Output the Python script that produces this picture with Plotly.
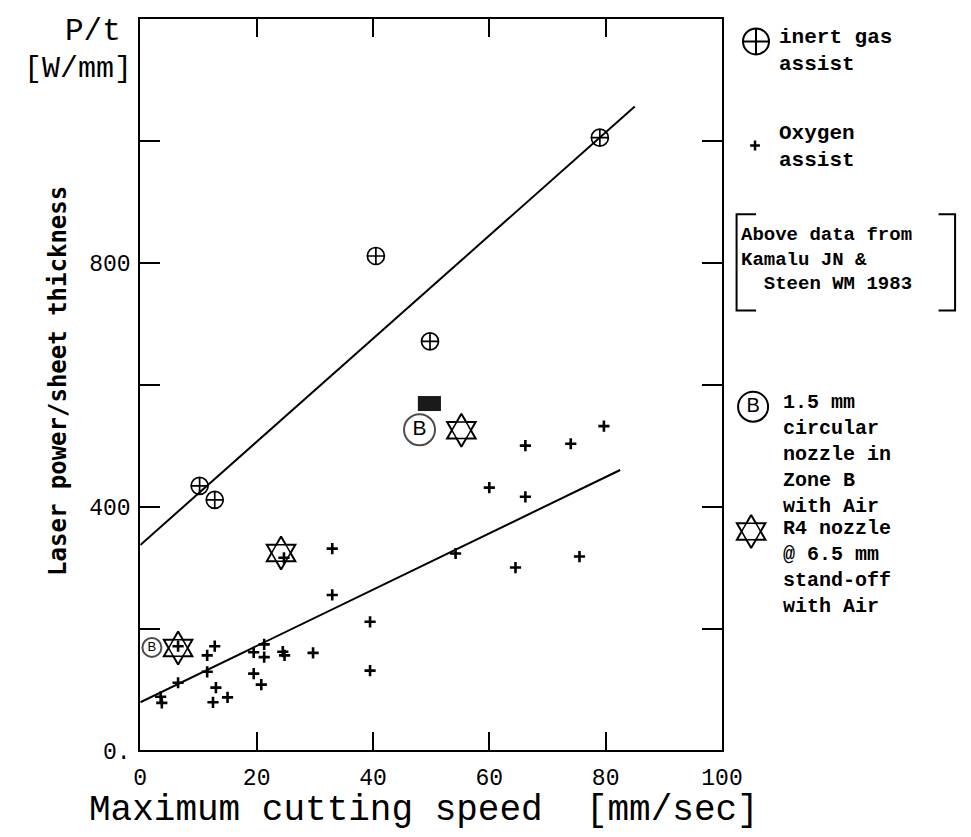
import plotly.graph_objects as go

W, H = 971, 837
L, R, T, B = 129, 728, 11, 756   # plot box edges (pixels)

# ---------------- data ----------------
inert_x = [10.2, 12.8, 40.5, 49.8, 79.0]
inert_y = [434, 411, 811, 671, 1005]

oxy_x = [3.5, 3.7, 6.5, 6.5, 11.5, 11.5, 12.8, 13.0, 12.5, 15.0, 19.5, 19.5,
         21.3, 21.3, 20.8, 24.5, 24.8, 24.7, 29.7, 33.0, 33.0, 39.5, 39.5,
         54.2, 60.0, 64.5, 66.2, 66.2, 74.0, 75.5, 79.7]
oxy_y = [88, 78, 111, 171, 129, 156, 171, 103, 79, 87, 161, 126,
         174, 153, 108, 162, 156, 316, 160, 331, 255, 211, 131,
         323, 431, 300, 500, 416, 503, 318, 532]

circB_x = [2.0, 48.0]
circB_y = [169, 526]

star_x = [6.5, 24.2, 55.2]
star_y = [168, 324, 525]

block_x = [49.7]
block_y = [569]

inert_fit_x = [0, 85]
inert_fit_y = [337, 1056]
oxy_fit_x = [0, 82.5]
oxy_fit_y = [79, 460]

x_ticks = [0, 20, 40, 60, 80, 100]
x_ticktext = ["0", "20", "40", "60", "80", "100"]
y_ticks = [0, 200, 400, 600, 800, 1000]
y_ticktext = ["0.", "", "400", "", "800", ""]

x_title = "Maximum cutting speed\u00a0\u00a0[mm/sec]"
y_title = "Laser power/sheet thickness"
unit_top = "P/t"
unit_bottom = "[W/mm]"

legend_inert = ["inert gas", "assist"]
legend_oxy = ["Oxygen", "assist"]
source_lines = ["Above data from", "Kamalu JN &", "\u00a0\u00a0Steen WM 1983"]
legend_B = ["1.5 mm", "circular", "nozzle in", "Zone B", "with Air"]
legend_star = ["R4 nozzle", "@ 6.5 mm", "stand-off", "with Air"]

# ---------------- figure ----------------
fig = go.Figure()
blk = "black"
STAR = 25


def star_traces(xs, ys, size, **kw):
    fig.add_trace(go.Scatter(x=xs, y=ys, mode="markers", hoverinfo="skip",
                             marker=dict(symbol="hexagram-open", size=size, color=blk,
                                         line=dict(width=2, color=blk)), **kw))
    fig.add_trace(go.Scatter(x=xs, y=ys, mode="markers", hoverinfo="skip",
                             marker=dict(symbol="hexagon2-open", size=size * 0.76, color=blk,
                                         line=dict(width=1.5, color=blk)), **kw))


fig.add_trace(go.Scatter(x=inert_fit_x, y=inert_fit_y, mode="lines",
                         line=dict(color=blk, width=2), hoverinfo="skip"))
fig.add_trace(go.Scatter(x=oxy_fit_x, y=oxy_fit_y, mode="lines",
                         line=dict(color=blk, width=2), hoverinfo="skip"))
fig.add_trace(go.Scatter(x=inert_x, y=inert_y, mode="markers",
                         marker=dict(symbol="circle-cross-open", size=17, color=blk,
                                     line=dict(width=1.7, color=blk))))
fig.add_trace(go.Scatter(x=oxy_x, y=oxy_y, mode="markers",
                         marker=dict(symbol="cross-thin-open", size=8, color=blk,
                                     line=dict(width=2.6, color=blk))))
fig.add_trace(go.Scatter(x=circB_x, y=circB_y, mode="markers+text", text=["B", "B"],
                         textposition="middle center",
                         textfont=dict(family="Liberation Sans", size=[13, 21], color=blk),
                         marker=dict(symbol="circle-open", size=[19, 31], color=blk,
                                     line=dict(width=2, color=blk))))
star_traces(star_x, star_y, STAR)
fig.add_trace(go.Scatter(x=block_x, y=block_y, mode="markers",
                         marker=dict(symbol="line-ew", size=16.5, color="#1a1a1a",
                                     line=dict(width=15, color="#1a1a1a"))))

# ---------------- legend (pixel-coordinate overlay axes) ----------------
leg_x = [763, 762, 760, 758]
leg_y = [34, 140, 406, 533]
fig.add_trace(go.Scatter(x=[leg_x[0]], y=[leg_y[0]], xaxis="x2", yaxis="y2", mode="markers",
                         marker=dict(symbol="circle-cross-open", size=26, color=blk,
                                     line=dict(width=2, color=blk))))
fig.add_trace(go.Scatter(x=[leg_x[1]], y=[leg_y[1]], xaxis="x2", yaxis="y2", mode="markers",
                         marker=dict(symbol="cross-thin-open", size=7, color=blk,
                                     line=dict(width=2.5, color=blk))))
fig.add_trace(go.Scatter(x=[leg_x[2]], y=[leg_y[2]], xaxis="x2", yaxis="y2", mode="markers+text",
                         text=["B"], textposition="middle center",
                         textfont=dict(family="Liberation Sans", size=20, color=blk),
                         marker=dict(symbol="circle-open", size=30, color=blk,
                                     line=dict(width=2, color=blk))))
star_traces([leg_x[3]], [leg_y[3]], STAR, xaxis="x2", yaxis="y2")

annotations = []


def add_block(lines, x0, y_first, size):
    # one multi-line text; y_first = centre of first line (plotly line spacing = 1.3 em)
    n = len(lines)
    yc = y_first + (n - 1) * 1.3 * size / 2
    annotations.append(dict(x=x0, y=yc, xref="x2", yref="y2", text="<br>".join(lines),
                            showarrow=False, xanchor="left", yanchor="middle", align="left",
                            font=dict(family="Liberation Mono", size=size, color=blk,
                                      weight="bold")))


add_block(legend_inert, 785, 30, 21)
add_block(legend_oxy, 785, 128, 21)
add_block(source_lines, 746, 231, 19)
add_block(legend_B, 789, 403, 20)
add_block(legend_star, 789, 531, 20)

shapes = [
    dict(type="path", xref="x2", yref="y2", path="M 763 210 L 743 210 L 743 308 L 763 308",
         line=dict(color=blk, width=2)),
    dict(type="path", xref="x2", yref="y2", path="M 951 210 L 968 210 L 968 308 L 951 308",
         line=dict(color=blk, width=2)),
]

# titles
annotations.append(dict(x=421 / W, y=1 - 817 / H, xref="paper", yref="paper", text=x_title,
                        showarrow=False, xanchor="center", yanchor="middle",
                        font=dict(family="Liberation Mono", size=36, color=blk)))
annotations.append(dict(x=44 / W, y=1 - 380 / H, xref="paper", yref="paper", text=y_title,
                        textangle=-90, showarrow=False, xanchor="center", yanchor="middle",
                        font=dict(family="DejaVu Sans Mono", size=24, color=blk, weight="bold")))
annotations.append(dict(x=111 / W, y=1 - 24 / H, xref="paper", yref="paper", text=unit_top,
                        showarrow=False, xanchor="right", yanchor="middle",
                        font=dict(family="Liberation Mono", size=31, color=blk)))
annotations.append(dict(x=123 / W, y=1 - 62 / H, xref="paper", yref="paper", text=unit_bottom,
                        showarrow=False, xanchor="right", yanchor="middle",
                        font=dict(family="Liberation Mono", size=30, color=blk)))

tickfont = dict(family="Liberation Mono", size=23, color=blk)
fig.update_layout(
    width=W, height=H, margin=dict(l=0, r=0, t=0, b=0),
    paper_bgcolor="white", plot_bgcolor="white", showlegend=False,
    xaxis=dict(domain=[L / W, R / W], range=[0, 100], tickvals=x_ticks, ticktext=x_ticktext,
               ticks="inside", ticklen=18, tickwidth=2, tickcolor=blk,
               showline=True, linewidth=2, linecolor=blk, mirror="allticks",
               showgrid=False, zeroline=False, tickfont=tickfont, ticklabelstandoff=5,
               fixedrange=True),
    yaxis=dict(domain=[1 - B / H, 1 - T / H], range=[0, 1200], tickvals=y_ticks, ticktext=y_ticktext,
               ticks="inside", ticklen=20, tickwidth=2, tickcolor=blk,
               showline=True, linewidth=2, linecolor=blk, mirror="allticks",
               showgrid=False, zeroline=False, tickfont=tickfont, ticklabelstandoff=3,
               fixedrange=True),
    xaxis2=dict(domain=[(R + 4) / W, 1], range=[R + 4, W], anchor="y2", visible=False,
                fixedrange=True),
    yaxis2=dict(domain=[0, 1], range=[H, 0], anchor="x2", visible=False, fixedrange=True),
    annotations=annotations, shapes=shapes,
)

fig.write_html("out.html")
